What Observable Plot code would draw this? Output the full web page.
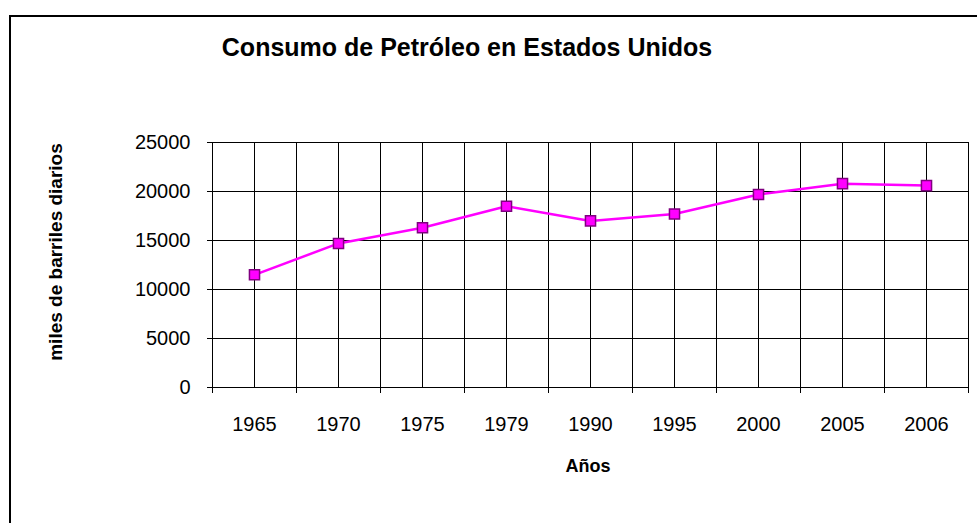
<!DOCTYPE html>
<html>
<head>
<meta charset="utf-8">
<script src="https://cdn.jsdelivr.net/npm/d3@7"></script>
<script src="https://cdn.jsdelivr.net/npm/@observablehq/plot@0.6"></script>
<style>
  html, body { margin: 0; padding: 0; background: #fff; }
  #wrap { position: relative; width: 977px; height: 523px; overflow: hidden; background: #fff;
          font-family: "Liberation Sans", Arial, sans-serif; color: #000; }
  #frame { position: absolute; left: 9px; top: 15px; width: 1200px; height: 1200px;
           border-left: 2px solid #000; border-top: 2px solid #000; }
  #chart { position: absolute; left: 0; top: 0; }
  .lbl { position: absolute; font-weight: bold; line-height: 1; white-space: nowrap; }
  #title { left: 0; width: 934px; text-align: center; top: 35px; font-size: 25px; }
  #xlabel { left: 488px; width: 200px; text-align: center; top: 457px; font-size: 18px; }
  #ylabel { left: 55px; top: 252px; font-size: 19px; transform: translate(-50%, -50%) rotate(-90deg); }
</style>
</head>
<body>
<div id="wrap">
  <div id="frame"></div>
  <div id="chart"></div>
  <div class="lbl" id="title">Consumo de Petróleo en Estados Unidos</div>
  <div class="lbl" id="xlabel">Años</div>
  <div class="lbl" id="ylabel">miles de barriles diarios</div>
</div>
<script>
const years = ["1965", "1970", "1975", "1979", "1990", "1995", "2000", "2005", "2006"];
const consumo = [11500, 14700, 16300, 18500, 17000, 17700, 19700, 20800, 20600];
const yTicks = [0, 5000, 10000, 15000, 20000, 25000];

const data = years.map((y, i) => ({i, year: y, value: consumo[i]}));
const idx = years.map((_, i) => i);
const bounds = years.map((_, i) => i - 0.5).concat(years.length - 0.5);
const gridX = bounds.concat(idx);

const chart = Plot.plot({
  width: 977,
  height: 523,
  marginLeft: 212,
  marginRight: 9,
  marginTop: 142,
  marginBottom: 136,
  style: {fontFamily: "'Liberation Sans', Arial, sans-serif", background: "transparent", color: "#000"},
  x: {domain: [-0.5, years.length - 0.5], axis: null},
  y: {domain: [0, 25000], axis: null},
  marks: [
    Plot.ruleY(yTicks, {stroke: "#000", strokeWidth: 1}),
    Plot.ruleX(gridX, {stroke: "#000", strokeWidth: 1}),
    Plot.axisY({ticks: yTicks, tickSize: 5, tickPadding: 17, tickFormat: (d) => String(d), fontSize: 20, label: null, stroke: "#000", strokeOpacity: 1}),
    Plot.axisX({ticks: bounds, tickSize: 6, tickFormat: () => "", label: null, stroke: "#000", strokeOpacity: 1}),
    Plot.axisX({ticks: idx, tickSize: 0, tickPadding: 29, tickFormat: (d) => years[d], fontSize: 20, label: null}),
    Plot.line(data, {x: "i", y: "value", stroke: "#FF00FF", strokeWidth: 2.5}),
    Plot.dot(data, {x: "i", y: "value", symbol: "square", r: 5.7, fill: "#FF00FF", stroke: "#800080", strokeWidth: 1.5})
  ]
});
document.getElementById("chart").appendChild(chart);
</script>
</body>
</html>
